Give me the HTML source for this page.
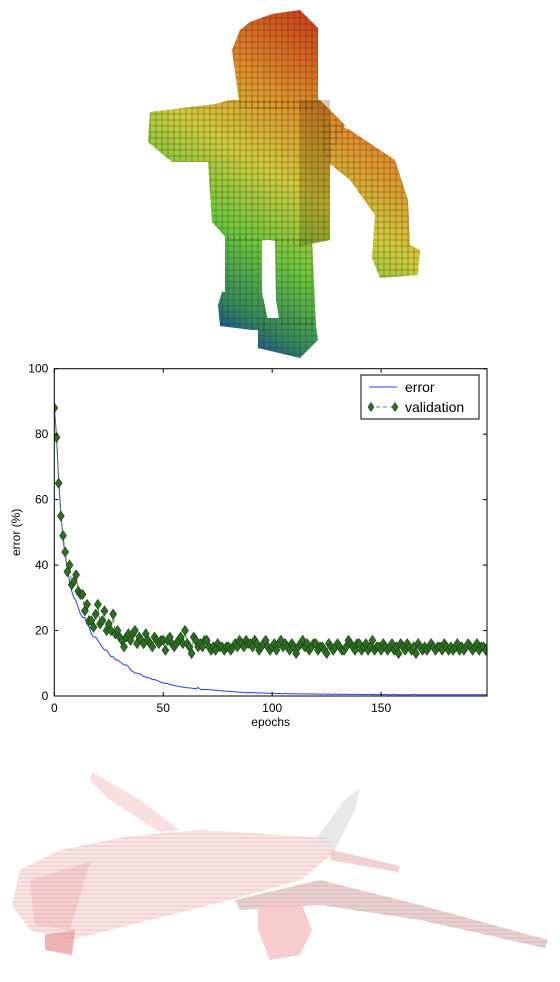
<!DOCTYPE html>
<html><head><meta charset="utf-8"><style>
html,body{margin:0;padding:0;background:#fff;}
body{width:560px;height:982px;position:relative;overflow:hidden;font-family:"Liberation Sans",sans-serif;}
svg{position:absolute;left:0;}
</style></head><body>
<svg width="560" height="360" style="top:0" viewBox="0 0 560 360">
<defs>
<pattern id="grid" width="6" height="6" patternUnits="userSpaceOnUse"><rect width="6" height="6" fill="none" stroke="rgba(60,40,0,0.45)" stroke-width="0.8"/></pattern>
<linearGradient id="rg" gradientUnits="userSpaceOnUse" x1="190" y1="330" x2="380" y2="30"><stop offset="0" stop-color="#1030c0"/><stop offset="0.12" stop-color="#308860"/><stop offset="0.3" stop-color="#68c840"/><stop offset="0.5" stop-color="#d0cc40"/><stop offset="0.7" stop-color="#e0902e"/><stop offset="1" stop-color="#c82818"/></linearGradient>
</defs>
<g fill="url(#rg)">
<polygon points="250,22 272,14 300,10 318,28 318,100 312,112 240,108 232,50 240,30"/>
<polygon points="150,112 215,104 230,100 320,100 345,125 330,160 330,240 300,246 270,240 230,242 212,222 208,162 172,162 148,142"/>
<polygon points="320,118 350,130 395,160 408,200 410,245 420,250 418,275 380,278 372,258 375,215 350,180 325,160"/>
<polygon points="225,235 262,238 262,292 225,292"/>
<polygon points="275,238 312,238 316,325 280,325 276,300"/>
<polygon points="222,292 262,292 270,330 252,330 220,326 218,305"/>
<polygon points="258,318 315,318 318,340 300,358 258,348"/>
</g>
<g fill="url(#grid)">
<polygon points="250,22 272,14 300,10 318,28 318,100 312,112 240,108 232,50 240,30"/>
<polygon points="150,112 215,104 230,100 320,100 345,125 330,160 330,240 300,246 270,240 230,242 212,222 208,162 172,162 148,142"/>
<polygon points="320,118 350,130 395,160 408,200 410,245 420,250 418,275 380,278 372,258 375,215 350,180 325,160"/>
<polygon points="225,235 262,238 262,292 225,292"/>
<polygon points="275,238 312,238 316,325 280,325 276,300"/>
<polygon points="222,292 262,292 270,330 252,330 220,326 218,305"/>
<polygon points="258,318 315,318 318,340 300,358 258,348"/>
</g>
<polygon points="300,100 330,100 330,240 300,246" fill="rgba(80,50,0,0.25)"/>
</svg>

<svg id="chart" width="560" height="380" style="top:360px" viewBox="0 360 560 380"></svg>

<svg width="560" height="240" style="top:742px" viewBox="0 742 560 240">
<defs>
<pattern id="stripe" width="5" height="4" patternUnits="userSpaceOnUse"><line x1="0" y1="2" x2="5" y2="2" stroke="rgba(150,90,90,0.3)" stroke-width="0.7"/></pattern>
</defs>
<g>
<polygon points="92,772 140,800 180,830 160,832 110,800 90,780" fill="#f8dede"/>
<polygon points="60,850 130,836 200,830 330,838 335,852 300,880 230,900 150,920 70,940 30,930 12,905 20,870" fill="#fae4e4"/>
<polygon points="30,880 90,862 70,930 35,925" fill="#f4c4c4" opacity="0.7"/>
<polygon points="315,840 345,800 360,788 355,810 335,850" fill="#e8e8e8"/>
<polygon points="332,850 400,866 398,872 330,860" fill="#f0d0d0"/>
<polygon points="235,900 320,880 420,905 548,940 545,948 420,920 320,905 240,910" fill="#e8d0d0"/>
<polygon points="258,905 300,900 312,930 300,955 270,960 258,930" fill="#f6cccc"/>
<polygon points="45,935 75,930 72,955 45,950" fill="#eeb4b4"/>
</g>
<g fill="url(#stripe)">
<polygon points="60,850 130,836 200,830 330,838 335,852 300,880 230,900 150,920 70,940 30,930 12,905 20,870"/>
<polygon points="235,900 320,880 420,905 548,940 545,948 420,920 320,905 240,910"/>
</g>
</svg>

<script>
const epochs=[];for(let i=0;i<200;i++)epochs.push(i);
const validation=[88,79,65,55,49,44,38,40,34,35,
37,32,31,31,26,28,23,23,21,25,
28,22,23,26,20,22,20,25,19,20,
18,17,15,18,19,17,19,20,16,18,
17,16,19,17,16,15,18,17,16,17,
17,14,17,18,16,15,16,17,18,16,
20,16,15,13,18,17,15,16,15,17,
17,15,14,15,14,16,15,15,14,15,
15,14,15,16,15,17,16,15,17,16,
16,15,17,16,14,15,16,17,15,14,
15,16,14,16,17,15,16,15,14,16,
15,13,15,16,17,15,16,14,15,16,
16,14,15,15,14,13,16,15,14,15,
16,15,14,14,15,17,16,15,14,16,
16,14,15,16,14,15,17,14,15,15,
14,16,15,14,15,16,14,15,13,16,
15,14,16,15,14,15,13,16,15,14,
15,14,15,16,15,14,15,15,14,16,
15,14,15,14,15,16,14,15,14,15,
16,15,14,15,16,14,15,15,14,15];
const trainError=[88,80,66,56,48,43,39,35,32,30,
29,27,25,24,24,22,21,19,18,18,
17,16,15,14,14,13,12,12,11,11,
10.5,10,9.5,9.5,9,8,7.5,7,7,6.8,
6.5,6,5.8,5.5,5.5,5,5,4.8,4.5,4.2,
4,3.8,3.8,3.5,3.4,3.2,3,3,2.8,2.7,
2.6,2.5,2.5,2.4,2.3,2.2,2.6,2.1,2,2,
2,1.9,1.9,1.8,1.8,1.7,1.6,1.6,1.5,1.5,
1.4,1.4,1.3,1.3,1.2,1.2,1.1,1.1,1,1,
1.1,1,1,1,0.9,0.9,0.9,0.9,0.8,0.8,
0.8,0.8,0.7,0.8,0.7,0.7,0.8,0.7,0.7,0.7,
0.7,0.6,0.7,0.7,0.6,0.6,0.7,0.6,0.6,0.6,
0.6,0.6,0.5,0.6,0.6,0.5,0.6,0.5,0.5,0.6,
0.5,0.5,0.5,0.6,0.5,0.5,0.5,0.5,0.5,0.5,
0.5,0.5,0.4,0.5,0.5,0.5,0.4,0.5,0.4,0.5,
0.4,0.4,0.5,0.4,0.4,0.4,0.5,0.4,0.4,0.4,
0.4,0.4,0.4,0.4,0.4,0.5,0.4,0.4,0.4,0.4,
0.4,0.4,0.4,0.4,0.4,0.4,0.4,0.4,0.4,0.4,
0.4,0.4,0.4,0.4,0.4,0.4,0.4,0.4,0.4,0.4,
0.4,0.4,0.4,0.4,0.4,0.4,0.4,0.4,0.4,0.4];
const xTicks=[0,50,100,150];
const yTicks=[0,20,40,60,80,100];

const NS='http://www.w3.org/2000/svg';
const svg=document.getElementById('chart');
const L=54.3,R=487,T=368.7,B=696,XMAX=198.6,YMAX=100;
const xs=v=>L+v/XMAX*(R-L);
const ys=v=>B-v/YMAX*(B-T);
function mk(tag,attrs,parent){const e=document.createElementNS(NS,tag);for(const k in attrs)e.setAttribute(k,attrs[k]);(parent||svg).appendChild(e);return e;}

const clip=mk('clipPath',{id:'plotclip'});mk('rect',{x:L,y:T,width:R-L,height:B-T},clip);
const plot=mk('g',{'clip-path':'url(#plotclip)'});



let d='';trainError.forEach((v,i)=>{d+=(i?'L':'M')+xs(epochs[i]).toFixed(2)+','+ys(v).toFixed(2);});
const errLine=mk('path',{d:d,fill:'none',stroke:'#2a3cf0','stroke-width':1},plot);



let dv='';validation.forEach((v,i)=>{dv+=(i?'L':'M')+xs(epochs[i]).toFixed(2)+','+ys(v).toFixed(2);});
const valLine=mk('path',{d:dv,fill:'none',stroke:'#4a9a40','stroke-width':1,'stroke-dasharray':'4,3'},plot);


validation.forEach((v,i)=>{
 const x=xs(epochs[i]),y=ys(v);
 const m=mk('polygon',{points:`${x},${y-5} ${x+3.5},${y} ${x},${y+5} ${x-3.5},${y}`,fill:'#2d6e22',stroke:'#1a3a12','stroke-width':0.6},plot);
 
 
});

const frame=mk('rect',{x:L,y:T,width:R-L,height:B-T,fill:'none',stroke:'#000','stroke-width':1});



xTicks.forEach(t=>{
 const x=xs(t);
 mk('line',{x1:x,x2:x,y1:B,y2:B-4,stroke:'#000'});
 mk('line',{x1:x,x2:x,y1:T,y2:T+4,stroke:'#000'});
 const tx=mk('text',{x:x,y:B+16,'text-anchor':'middle','font-size':12,fill:'#000'});tx.textContent=t;
 
 
});
yTicks.forEach(t=>{
 const y=ys(t);
 mk('line',{x1:L,x2:L+4,y1:y,y2:y,stroke:'#000'});
 mk('line',{x1:R,x2:R-4,y1:y,y2:y,stroke:'#000'});
 const tx=mk('text',{x:L-6,y:y+4,'text-anchor':'end','font-size':12,fill:'#000'});tx.textContent=t;
 
 
});
const xl=mk('text',{x:(L+R)/2,y:726,'text-anchor':'middle','font-size':12});xl.textContent='epochs';


const yl=mk('text',{x:0,y:0,'text-anchor':'middle','font-size':12,transform:`translate(20,${(T+B)/2}) rotate(-90)`});yl.textContent='error (%)';



const lg=mk('g',{});


mk('rect',{x:361,y:375,width:118,height:44,fill:'#fff',stroke:'#000','stroke-width':1},lg);
mk('line',{x1:369,x2:397,y1:387,y2:387,stroke:'#2a3cf0'},lg);
const t1=mk('text',{x:405,y:392,'font-size':14},lg);t1.textContent='error';


mk('line',{x1:369,x2:397,y1:407,y2:407,stroke:'#4a9a40','stroke-dasharray':'4,3'},lg);
[371,395].forEach(x=>mk('polygon',{points:`${x},402.5 ${x+3},407 ${x},411.5 ${x-3},407`,fill:'#2d6e22',stroke:'#1a3a12','stroke-width':0.6},lg));
const t2=mk('text',{x:405,y:412,'font-size':14},lg);t2.textContent='validation';


</script>
</body></html>
